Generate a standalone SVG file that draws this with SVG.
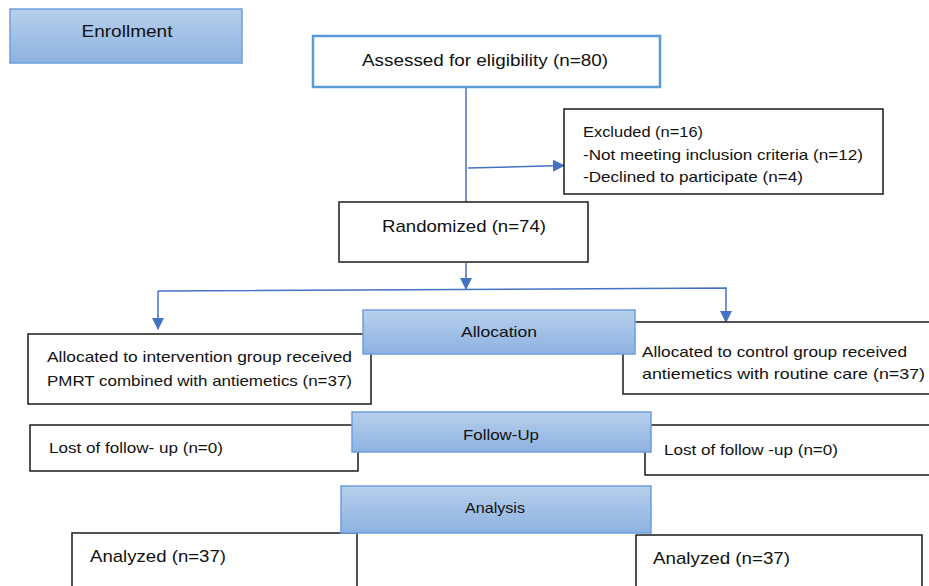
<svg xmlns="http://www.w3.org/2000/svg" width="929" height="586" viewBox="0 0 929 586">
<defs>
<linearGradient id="blueGrad" x1="0" y1="0" x2="0" y2="1">
<stop offset="0" stop-color="#b7cfec"/>
<stop offset="1" stop-color="#8db2e1"/>
</linearGradient>
<marker id="arrow" viewBox="0 0 12 12" markerWidth="12" markerHeight="12" refX="11" refY="6" orient="auto" markerUnits="userSpaceOnUse">
<path d="M0,0 L12,6 L0,12 Z" fill="#4472c4"/>
</marker>
<style>
.phase{fill:url(#blueGrad);stroke:#6d9fdc;stroke-width:1.5}
.box{fill:#ffffff;stroke:#1a1a1a;stroke-width:1.5}
.bluebox{fill:#ffffff;stroke:#5b9bd5;stroke-width:2.5}
.t{font-family:"Liberation Sans",Arial,sans-serif;fill:#111111}
.big{font-size:17px}
.sm{font-size:15px}
.conn{fill:none;stroke:#4472c4;stroke-width:1.5}
</style>
</defs>
<g id="connectors">
<line class="conn" x1="466" y1="88" x2="466" y2="202"/>
<line class="conn" x1="468" y1="168" x2="564" y2="165.5" marker-end="url(#arrow)"/>
<line class="conn" x1="466" y1="263" x2="466" y2="289" marker-end="url(#arrow)"/>
<polyline class="conn" points="158,291 726,288 726,322" marker-end="url(#arrow)"/>
<line class="conn" x1="158" y1="291" x2="158" y2="329" marker-end="url(#arrow)"/>
</g>
<g id="enrollment">
<rect class="phase" x="10" y="9" width="232" height="54"/>
<text class="t big" x="127" y="37" text-anchor="middle" textLength="91" lengthAdjust="spacingAndGlyphs">Enrollment</text>
</g>
<g id="assessed">
<rect class="bluebox" x="313" y="36" width="347" height="51"/>
<text class="t big" x="362" y="66" textLength="246" lengthAdjust="spacingAndGlyphs">Assessed for eligibility (n=80)</text>
</g>
<g id="excluded">
<rect class="box" x="564" y="109" width="319" height="85"/>
<text class="t sm" x="583" y="137" textLength="120" lengthAdjust="spacingAndGlyphs">Excluded (n=16)</text>
<text class="t sm" x="583" y="160" textLength="280" lengthAdjust="spacingAndGlyphs">-Not meeting inclusion criteria (n=12)</text>
<text class="t sm" x="583" y="182" textLength="220" lengthAdjust="spacingAndGlyphs">-Declined to participate (n=4)</text>
</g>
<g id="randomized">
<rect class="box" x="339" y="202" width="249" height="60"/>
<text class="t big" x="382" y="232" textLength="164" lengthAdjust="spacingAndGlyphs">Randomized (n=74)</text>
</g>
<g id="intervention">
<rect class="box" x="28" y="334" width="343" height="70"/>
<text class="t sm" x="47" y="362" textLength="305" lengthAdjust="spacingAndGlyphs">Allocated to intervention group received</text>
<text class="t sm" x="47" y="386" textLength="305" lengthAdjust="spacingAndGlyphs">PMRT combined with antiemetics (n=37)</text>
</g>
<g id="control">
<rect class="box" x="623" y="322" width="320" height="72"/>
<text class="t sm" x="642" y="357" textLength="265" lengthAdjust="spacingAndGlyphs">Allocated to control group received</text>
<text class="t sm" x="642" y="379" textLength="283" lengthAdjust="spacingAndGlyphs">antiemetics with routine care (n=37)</text>
</g>
<g id="allocation">
<rect class="phase" x="363" y="310" width="272" height="44"/>
<text class="t sm" x="499" y="337" text-anchor="middle" textLength="76" lengthAdjust="spacingAndGlyphs">Allocation</text>
</g>
<g id="lost-left">
<rect class="box" x="30" y="425" width="328" height="46"/>
<text class="t sm" x="49" y="453" textLength="174" lengthAdjust="spacingAndGlyphs">Lost of follow- up (n=0)</text>
</g>
<g id="lost-right">
<rect class="box" x="645" y="425" width="300" height="50"/>
<text class="t sm" x="664" y="455" textLength="174" lengthAdjust="spacingAndGlyphs">Lost of follow -up (n=0)</text>
</g>
<g id="followup">
<rect class="phase" x="352" y="412" width="299" height="40"/>
<text class="t sm" x="501" y="440" text-anchor="middle" textLength="76" lengthAdjust="spacingAndGlyphs">Follow-Up</text>
</g>
<g id="analyzed-left">
<rect class="box" x="72" y="533" width="285" height="70"/>
<text class="t big" x="90" y="562" textLength="136" lengthAdjust="spacingAndGlyphs">Analyzed (n=37)</text>
</g>
<g id="analyzed-right">
<rect class="box" x="636" y="535" width="286" height="70"/>
<text class="t big" x="653" y="564" textLength="137" lengthAdjust="spacingAndGlyphs">Analyzed (n=37)</text>
</g>
<g id="analysis">
<rect class="phase" x="341" y="486" width="310" height="47"/>
<text class="t sm" x="495" y="513" text-anchor="middle" textLength="60" lengthAdjust="spacingAndGlyphs">Analysis</text>
</g>
</svg>
